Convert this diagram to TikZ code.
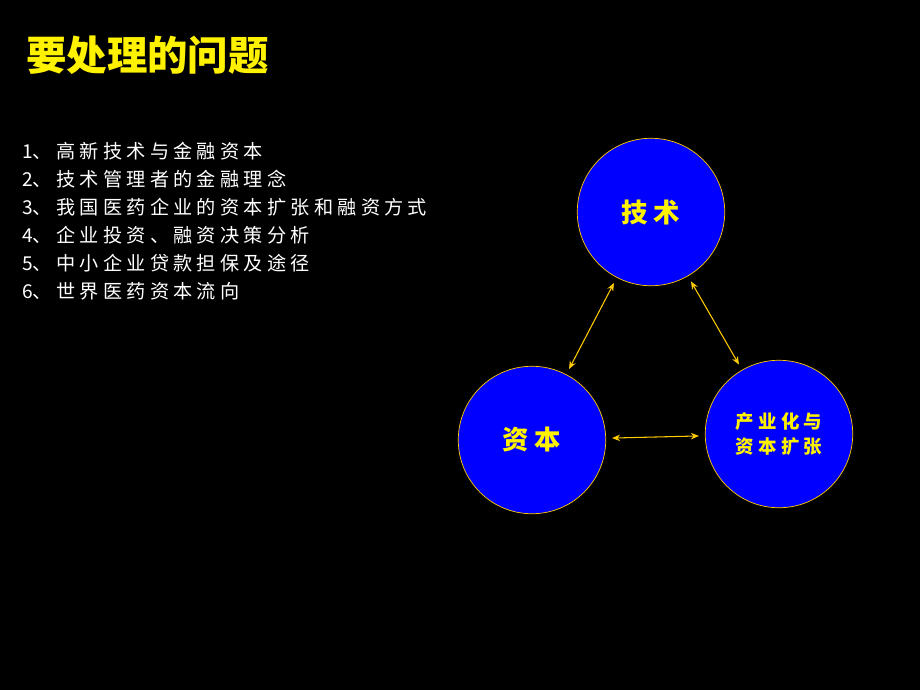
\documentclass[tikz,border=0pt]{standalone}
\usepackage{fontspec}
\setmainfont{Liberation Serif}
\newfontfamily\cjk{Noto Sans CJK SC}
\usetikzlibrary{arrows.meta}
\usetikzlibrary{positioning}
\definecolor{gold}{RGB}{255,204,0}
\tikzset{
    topic/.style={
        draw=gold,
        circle,
        fill=blue,
        minimum size=2.95cm,
        inner sep=1pt,
        text=yellow,
        font=\cjk\bfseries
    },
    link/.style={
        draw=gold,
        {Stealth[length=1.6mm, width=1.3mm]}-{Stealth[length=1.6mm, width=1.3mm]},
        semithick,
        shorten <=0.12cm,
        shorten >=0.12cm
    }
}
\begin{document}
\begin{tikzpicture}[x=0.02cm, y=-0.02cm]
  \fill[black] (0,0) rectangle (920,690);

  % Title
  \node[anchor=west, text=yellow, font=\cjk\bfseries\fontsize{23}{27}\selectfont] (title) at (20,55) {要处理的问题};

  % Topics
  \node[anchor=north west, align=left, text=white, font=\cjk\fontsize{10.9}{15.9}\selectfont] (list) at (16,136) {%
    1、 高 新 技 术 与 金 融 资 本\\
    2、 技 术 管 理 者 的 金 融 理 念\\
    3、 我 国 医 药 企 业 的 资 本 扩 张 和 融 资 方 式\\
    4、 企 业 投 资 、 融 资 决 策 分 析\\
    5、 中 小 企 业 贷 款 担 保 及 途 径\\
    6、 世 界 医 药 资 本 流 向};

  % Circles
  \node[topic, font=\cjk\bfseries\fontsize{15}{18}\selectfont] (tech) at (651,212) {技 术};
  \node[topic, font=\cjk\bfseries\fontsize{15}{18}\selectfont] (capital) at (532,440) {资 本};
  \node[topic, align=center, font=\cjk\bfseries\fontsize{10.5}{14}\selectfont] (industry) at (779,434) {产 业 化 与\\资 本 扩 张};

  % Arrows
  \draw[link] (tech) -- (capital);
  \draw[link] (tech) -- (industry);
  \draw[link] (capital) -- (industry);
\end{tikzpicture}
\end{document}
